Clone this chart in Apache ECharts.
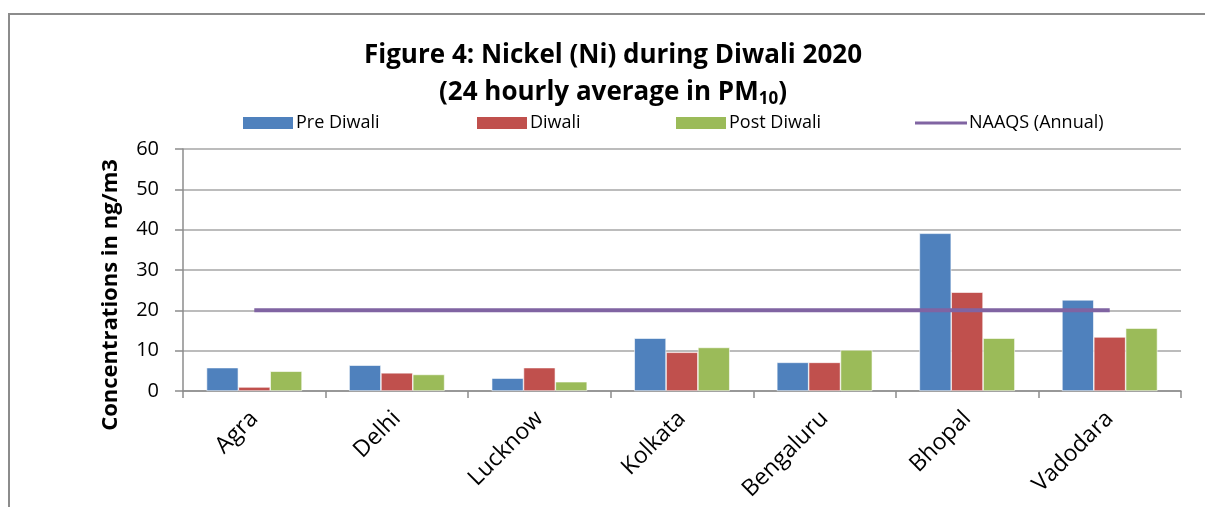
<!DOCTYPE html>
<html><head><meta charset="utf-8">
<script src="https://cdn.jsdelivr.net/npm/echarts@6/dist/echarts.min.js"></script>
<style>html,body{margin:0;padding:0;background:#fff}#c{width:1205px;height:507px}</style>
</head><body><div id="c"></div>
<script>
const categories = ['Agra','Delhi','Lucknow','Kolkata','Bengaluru','Bhopal','Vadodara'];
const preDiwali = [5.8, 6.4, 3.2, 13.1, 7.1, 39.1, 22.6];
const diwali = [1.0, 4.5, 5.8, 9.6, 7.1, 24.5, 13.4];
const postDiwali = [4.9, 4.1, 2.3, 10.8, 10.2, 13.1, 15.6];
const naaqs = [20, 20, 20, 20, 20, 20, 20];
const yTicks = [0, 10, 20, 30, 40, 50, 60];

const FONT = '"Open Sans", "DejaVu Sans", sans-serif';
const chart = echarts.init(document.getElementById('c'), null, {renderer: 'canvas'});
const legendBase = {top: 109, itemGap: 2, textStyle: {fontFamily: FONT, fontSize: 18, color: '#000', padding: [0,0,0,-3]}};
chart.setOption({
  animation: false,
  backgroundColor: '#fff',
  graphic: [
    {type: 'rect', shape: {x: 9, y: 14, width: 1300, height: 600}, style: {fill: 'none', stroke: '#8c8c8c', lineWidth: 2}},
    {type: 'text', x: 613, y: 56, style: {text: 'Figure 4: Nickel (Ni) during Diwali 2020', fontFamily: FONT, fontWeight: 'bold', fontSize: 26, fill: '#000', align: 'center', verticalAlign: 'middle'}},
    {type: 'text', x: 613, y: 93, style: {text: '(24 hourly average in PM{s|10})', rich: {s: {fontSize: 17, fontWeight: 'bold', fontFamily: FONT, padding: [12,0,0,0]}}, fontFamily: FONT, fontWeight: 'bold', fontSize: 26, fill: '#000', align: 'center', verticalAlign: 'middle'}},
    {type: 'text', x: 111, y: 295, rotation: Math.PI/2, style: {text: 'Concentrations in ng/m3', fontFamily: FONT, fontWeight: 'bold', fontSize: 22, fill: '#000', align: 'center', verticalAlign: 'middle'}}
  ],
  legend: [
    Object.assign({}, legendBase, {left: 236, data: ['Pre Diwali'], itemWidth: 52, itemHeight: 14, icon: 'rect'}),
    Object.assign({}, legendBase, {left: 470, data: ['Diwali'], itemWidth: 52, itemHeight: 14, icon: 'rect'}),
    Object.assign({}, legendBase, {left: 669, data: ['Post Diwali'], itemWidth: 52, itemHeight: 14, icon: 'rect'}),
    Object.assign({}, legendBase, {left: 910, data: ['NAAQS (Annual)'], itemWidth: 52, itemHeight: 14, icon: 'path://M0,6 L52,6 L52,9 L0,9 Z'})
  ],
  grid: {left: 183, right: 24, top: 149, bottom: 116, containLabel: false},
  xAxis: {
    type: 'category', data: categories,
    axisLine: {lineStyle: {color: '#8c8c8c', width: 1.5}},
    axisTick: {show: true, length: 7, lineStyle: {color: '#8c8c8c', width: 1.5}},
    axisLabel: {rotate: 45, fontFamily: FONT, fontSize: 23, color: '#000', margin: 24}
  },
  yAxis: {
    type: 'value', min: 0, max: 60, interval: 10,
    axisLine: {show: true, lineStyle: {color: '#8c8c8c', width: 1.5}},
    axisTick: {show: true, length: 8, lineStyle: {color: '#8c8c8c', width: 1.5}},
    splitLine: {lineStyle: {color: '#a6a6a6', width: 1.5}},
    axisLabel: {fontFamily: FONT, fontSize: 20, color: '#000', margin: 24,
      formatter: v => yTicks.includes(v) ? String(v) : ''}
  },
  series: [
    {name: 'Pre Diwali', type: 'bar', data: preDiwali, barGap: '0%', barCategoryGap: '33%', itemStyle: {color: '#4F81BD', borderColor: '#fff', borderWidth: 0.6}},
    {name: 'Diwali', type: 'bar', data: diwali, itemStyle: {color: '#C0504D', borderColor: '#fff', borderWidth: 0.6}},
    {name: 'Post Diwali', type: 'bar', data: postDiwali, itemStyle: {color: '#9BBB59', borderColor: '#fff', borderWidth: 0.6}},
    {name: 'NAAQS (Annual)', type: 'line', data: naaqs, symbol: 'none', lineStyle: {color: '#8064A2', width: 4}, itemStyle: {color: '#8064A2'}, z: 5}
  ]
});
</script></body></html>
